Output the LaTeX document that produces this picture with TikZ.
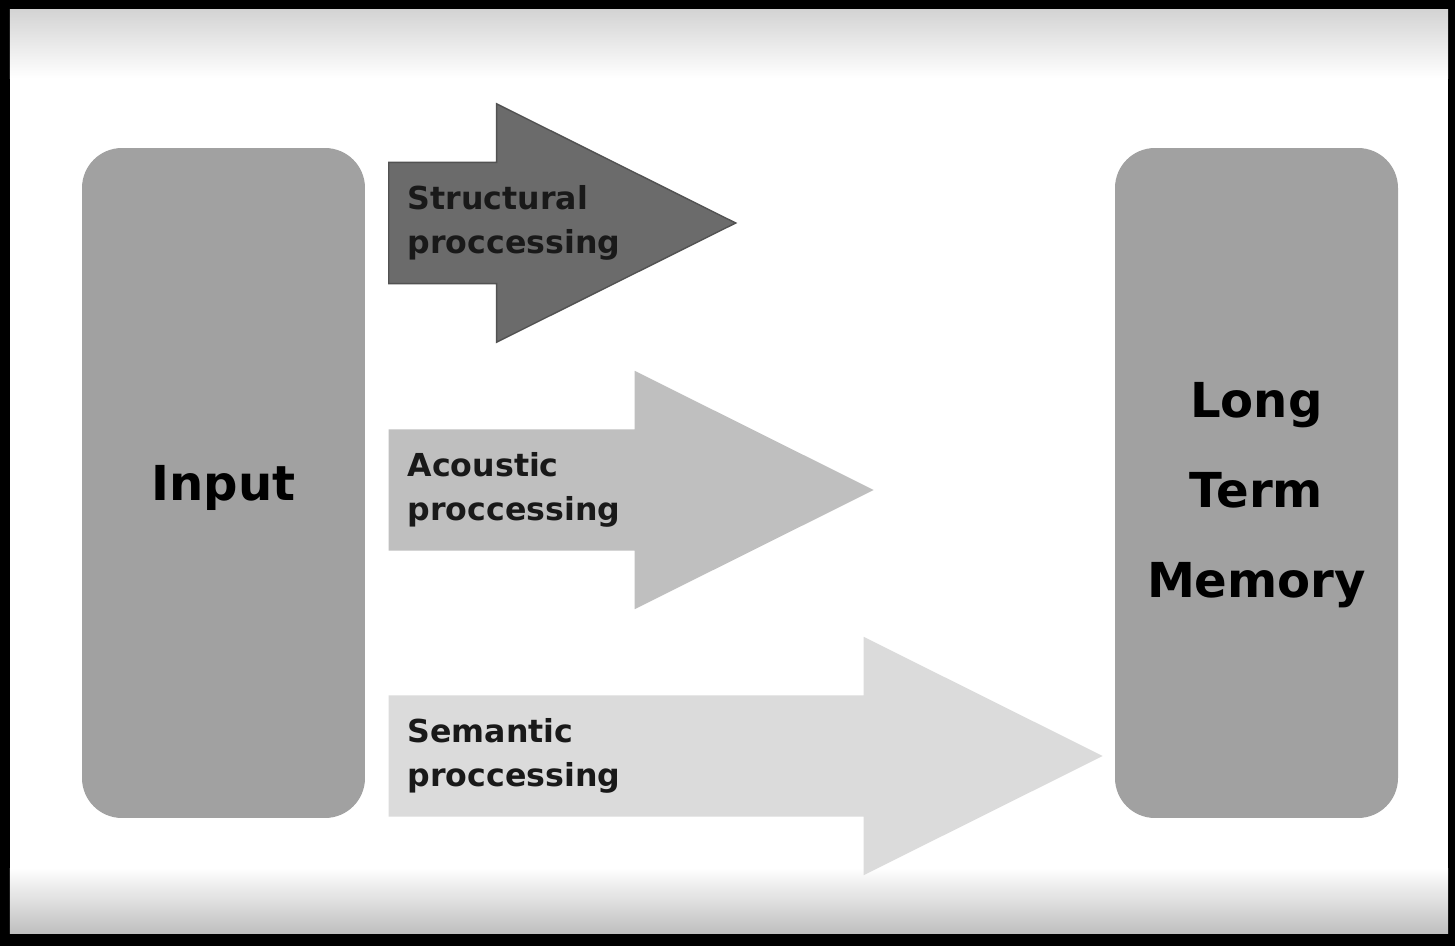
\documentclass[tikz,border=0pt]{standalone}
\usepackage{fontspec}
\setmainfont{DejaVu Sans}
\usepackage{tikz}
\usetikzlibrary{positioning, shapes.arrows}

\begin{document}
\begin{tikzpicture}[x=0.1mm, y=-0.1mm]
\tikzstyle{store}=[rounded corners=4mm, fill=black!37, minimum width=28.3mm, minimum height=67mm, inner sep=0pt]
\tikzstyle{storetext}=[font=\fontsize{13.7}{25.6}\selectfont\bfseries, align=center, inner sep=0pt]
\tikzstyle{bigarrow}=[single arrow, anchor=tail, minimum width=23.6mm, single arrow head extend=5.85mm,
single arrow tip angle=53, inner xsep=0pt, inner ysep=6mm, shape border rotate=0]
\tikzstyle{arrowtext}=[font=\fontsize{9}{12.5}\selectfont\bfseries, align=left, inner sep=0pt, text=black!90]

% frame
\fill[black] (0,0) rectangle (1455,946);
\fill[white] (10,10) rectangle (1448,933);
\shade[top color=black!17, bottom color=white] (10,10) rectangle (1448,78);
\shade[top color=white, bottom color=black!25] (10,868) rectangle (1448,933);

% stores
\node (input) [store] at (223.5,483) {};
\node (ltm) [store] at (1256.5,483) {};
\node (inputtxt) [storetext] at ([yshift=-0.5mm]input.center) {Input};
\node (ltmtxt) [storetext] at ([yshift=-1.2mm]ltm.center) {Long\\Term\\Memory};

% processing arrows
\node (struct) [bigarrow, fill=black!58, draw=black!68, minimum height=34.7mm] at (388,223) {};
\node (acoust) [bigarrow, fill=black!25, minimum height=48.5mm] at (388,490) {};
\node (seman) [bigarrow, fill=black!14, minimum height=71.4mm] at (388,756) {};

\node (structtxt) [arrowtext, right=1.9mm of struct.tail] {Structural\\proccessing};
\node (acousttxt) [arrowtext, right=1.9mm of acoust.tail] {Acoustic\\proccessing};
\node (semantxt) [arrowtext, right=1.9mm of seman.tail] {Semantic\\proccessing};

\end{tikzpicture}
\end{document}
